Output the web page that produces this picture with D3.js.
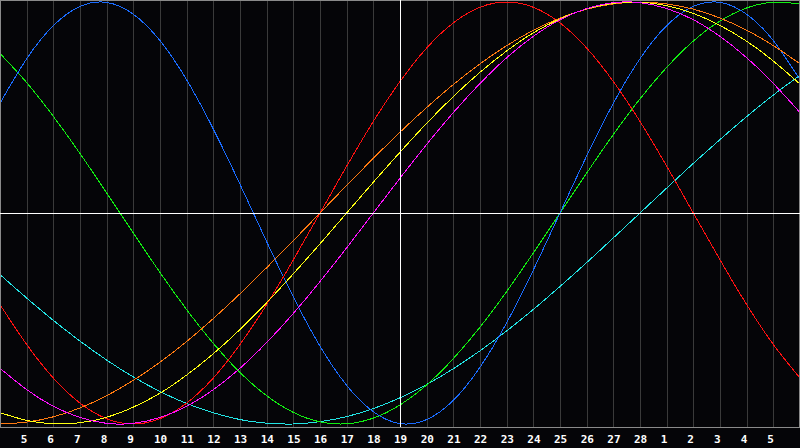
<!DOCTYPE html>
<html>
<head>
<meta charset="utf-8">
<script src="https://cdn.jsdelivr.net/npm/d3@7"></script>
<style>
  html, body { margin: 0; padding: 0; background: #050508; }
  svg { display: block; }
</style>
</head>
<body>
<svg id="chart" width="800" height="448"></svg>
<script>
// Day labels for each grid column (index 0..30); labels drawn for 1..29
const days = [4,5,6,7,8,9,10,11,12,13,14,15,16,17,18,19,20,21,22,23,24,25,26,27,28,1,2,3,4,5,6];
const todayIndex = 15;

// Series values at each day index
const blue    = [0.520,0.731,0.888,0.979,0.998,0.942,0.817,0.631,0.398,0.136,-0.136,-0.398,-0.631,-0.817,-0.942,-0.998,-0.979,-0.888,-0.731,-0.520,-0.270,0,0.270,0.520,0.731,0.888,0.979,0.998,0.942,0.817,0.631];
const red     = [-0.434,-0.623,-0.782,-0.901,-0.975,-1,-0.975,-0.901,-0.782,-0.623,-0.434,-0.222,0,0.222,0.434,0.623,0.782,0.901,0.975,1,0.975,0.901,0.782,0.623,0.434,0.222,0,-0.222,-0.434,-0.623,-0.782];
const green   = [0.756,0.618,0.458,0.282,0.095,-0.095,-0.282,-0.458,-0.618,-0.756,-0.866,-0.945,-0.990,-0.999,-0.972,-0.910,-0.815,-0.690,-0.541,-0.372,-0.189,0,0.189,0.372,0.541,0.690,0.815,0.910,0.972,0.999,0.990];
const cyan    = [-0.292,-0.403,-0.509,-0.607,-0.697,-0.777,-0.846,-0.903,-0.947,-0.979,-0.996,-1.000,-0.989,-0.965,-0.927,-0.876,-0.813,-0.738,-0.653,-0.559,-0.457,-0.348,-0.235,-0.118,0,0.118,0.235,0.348,0.457,0.559,0.653];
const magenta = [-0.736,-0.837,-0.916,-0.969,-0.997,-0.997,-0.969,-0.916,-0.837,-0.736,-0.614,-0.476,-0.325,-0.165,0,0.165,0.325,0.476,0.614,0.736,0.837,0.916,0.969,0.997,0.997,0.969,0.916,0.837,0.736,0.614,0.476];
const yellow  = [-0.946,-0.983,-0.999,-0.994,-0.968,-0.920,-0.854,-0.768,-0.667,-0.552,-0.425,-0.288,-0.146,0,0.146,0.288,0.425,0.552,0.667,0.768,0.854,0.920,0.968,0.994,0.999,0.983,0.946,0.889,0.814,0.720,0.611];
const orange  = [-1,-0.991,-0.966,-0.924,-0.866,-0.793,-0.707,-0.609,-0.5,-0.383,-0.259,-0.131,0,0.131,0.259,0.383,0.5,0.609,0.707,0.793,0.866,0.924,0.966,0.991,1,0.991,0.966,0.924,0.866,0.793,0.707];

const seriesList = [
  {name: "cyan", values: cyan, color: "#22e4e4"},
  {name: "green", values: green, color: "#11ee11"},
  {name: "blue", values: blue, color: "#1a6cff"},
  {name: "red", values: red, color: "#ff1010"},
  {name: "orange", values: orange, color: "#ff7a10"},
  {name: "yellow", values: yellow, color: "#ffff10"},
  {name: "magenta", values: magenta, color: "#ff10ff"}
];

const svg = d3.select("#chart");
const W = 800, plotBottom = 427;

svg.append("rect").attr("x",0).attr("y",0).attr("width",800).attr("height",448).attr("fill","#050508");

const x = d3.scaleLinear().domain([0, days.length - 1]).range([0, W]);
const y = d3.scaleLinear().domain([-1, 1]).range([424, 2]);

// vertical grid lines
svg.append("g").selectAll("line")
  .data(d3.range(1, days.length - 1))
  .join("line")
  .attr("x1", d => Math.round(x(d)) + 0.5)
  .attr("x2", d => Math.round(x(d)) + 0.5)
  .attr("y1", 0).attr("y2", plotBottom)
  .attr("stroke", "#3a3a3a")
  .attr("stroke-width", 1)
  .attr("shape-rendering", "crispEdges");

// border
svg.append("rect")
  .attr("x", 0.5).attr("y", 0.5)
  .attr("width", W - 1).attr("height", plotBottom)
  .attr("fill", "none")
  .attr("stroke", "#8a8a8a")
  .attr("shape-rendering", "crispEdges");

// curves
const line = d3.line()
  .x((d, i) => x(i))
  .y(d => y(d))
  .curve(d3.curveNatural);

const clip = svg.append("clipPath").attr("id", "plotclip")
  .append("rect").attr("x", 1).attr("y", 1).attr("width", W - 2).attr("height", plotBottom - 1);

svg.append("g").attr("clip-path", "url(#plotclip)")
  .selectAll("path")
  .data(seriesList)
  .join("path")
  .attr("d", s => line(s.values))
  .attr("fill", "none")
  .attr("stroke", s => s.color)
  .attr("stroke-width", 1)
  .attr("shape-rendering", "crispEdges");

// white centre lines
svg.append("line")
  .attr("x1", 0).attr("x2", W)
  .attr("y1", Math.round(y(0)) + 0.5).attr("y2", Math.round(y(0)) + 0.5)
  .attr("stroke", "#ffffff").attr("shape-rendering", "crispEdges");
svg.append("line")
  .attr("x1", Math.round(x(todayIndex)) + 0.5).attr("x2", Math.round(x(todayIndex)) + 0.5)
  .attr("y1", 0).attr("y2", plotBottom)
  .attr("stroke", "#ffffff").attr("shape-rendering", "crispEdges");

// day labels
svg.append("g").selectAll("text")
  .data(d3.range(1, days.length - 1))
  .join("text")
  .attr("x", d => x(d) - 6)
  .attr("y", 443)
  .attr("fill", "#ffffff")
  .attr("font-family", "'DejaVu Sans Mono', monospace")
  .attr("font-weight", "bold")
  .attr("font-size", "11px")
  .text(d => days[d]);
</script>
</body>
</html>
